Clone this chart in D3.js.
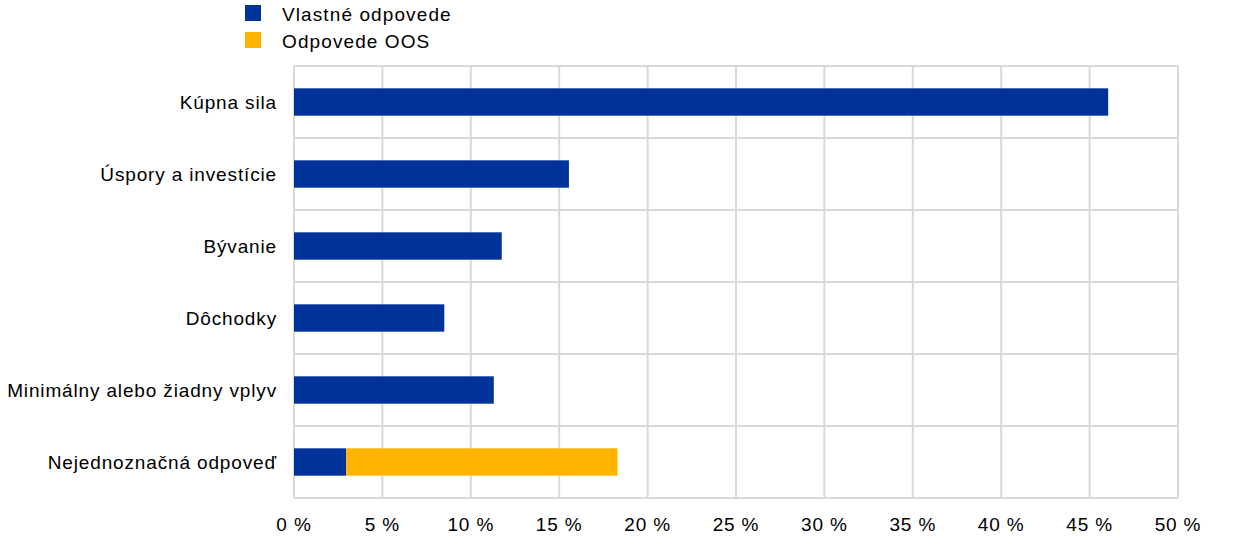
<!DOCTYPE html>
<html><head><meta charset="utf-8">
<script src="https://cdn.jsdelivr.net/npm/d3@7"></script>
<style>body{margin:0;background:#fff}text{font-family:"Liberation Sans",Arial,sans-serif;fill:#000}</style>
</head><body>
<svg id="c" width="1240" height="544"></svg>
<script>
const categories = ["Kúpna sila","Úspory a investície","Bývanie","Dôchodky","Minimálny alebo žiadny vplyv","Nejednoznačná odpoveď"];
const ownAnswers = [46.05, 15.55, 11.75, 8.5, 11.3, 2.95];
const oosAnswers = [0, 0, 0, 0, 0, 15.35];
const seriesNames = ["Vlastné odpovede","Odpovede OOS"];
const colors = ["#003299","#FFB400"];
const xTicks = [0,5,10,15,20,25,30,35,40,45,50];

const svg = d3.select("#c");
const x = d3.scaleLinear().domain([0,50]).range([294,1178]);
const y = d3.scaleBand().domain(categories).range([66,498]).paddingInner(0.62).paddingOuter(0.31);
const rowY = d3.scaleBand().domain(categories).range([66,498]);

// grid
const g = svg.append("g");
g.selectAll("line.v").data(xTicks).join("line")
  .attr("x1",d=>x(d)).attr("x2",d=>x(d)).attr("y1",66).attr("y2",498)
  .attr("stroke","#d9d9d9").attr("stroke-width",2);
const hLines = categories.map(c=>rowY(c)).concat([498]);
g.selectAll("line.h").data(hLines).join("line")
  .attr("x1",294).attr("x2",1178).attr("y1",d=>d).attr("y2",d=>d)
  .attr("stroke","#d9d9d9").attr("stroke-width",2);

// bars
const stackData = categories.map((c,i)=>({cat:c, own:ownAnswers[i], oos:oosAnswers[i]}));
const stack = d3.stack().keys(["own","oos"])(stackData);
svg.append("g").selectAll("g").data(stack).join("g")
  .attr("fill",(d,i)=>colors[i])
  .selectAll("rect").data(d=>d.filter(p=>p[1]-p[0]>0)).join("rect")
  .attr("x",d=>x(d[0])).attr("width",d=>x(d[1])-x(d[0]))
  .attr("y",d=>y(d.data.cat)).attr("height",y.bandwidth());

// y labels
svg.append("g").selectAll("text").data(categories).join("text")
  .attr("x",277).attr("y",d=>y(d)+y.bandwidth()/2).attr("dy","0.35em")
  .attr("text-anchor","end").attr("font-size",19).attr("letter-spacing",0.85).text(d=>d);

// x labels
svg.append("g").selectAll("text").data(xTicks).join("text")
  .attr("x",d=>x(d)).attr("y",531).attr("text-anchor","middle")
  .attr("font-size",19).attr("letter-spacing",0.85).text(d=>d+" %");

// legend
const lg = svg.append("g");
seriesNames.forEach((n,i)=>{
  lg.append("rect").attr("x",245).attr("y",5+i*27).attr("width",16).attr("height",16).attr("fill",colors[i]);
  lg.append("text").attr("x",282).attr("y",14+i*27).attr("dy","0.35em").attr("font-size",19).attr("letter-spacing",1.1).text(n);
});
</script>
</body></html>
